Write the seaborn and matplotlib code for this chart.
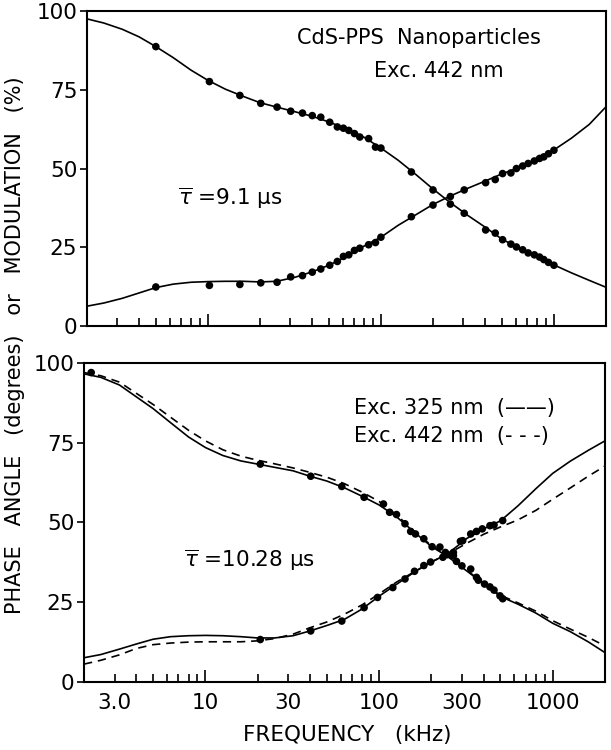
import numpy as np
import pandas as pd
import seaborn as sns
import matplotlib.pyplot as plt
from matplotlib.ticker import NullFormatter

# --- data (frequency in kHz) ---
# top panel: CdS-PPS, Exc. 442 nm, measured points
top_freq = [5.0, 10.2, 15.3, 20.2, 25.1, 30.1, 35.2, 40.1, 44.9, 50.6, 56.0, 60.7,
            65.2, 70.3, 75.5, 84.9, 93, 100, 150, 200, 252, 303, 403, 458, 505,
            564, 607, 660, 710, 771, 826, 874, 930, 1000]
top_mod = [88.7, 77.6, 73.2, 70.7, 69.5, 68.2, 67.6, 66.8, 66.3, 64.7, 63.2, 62.8,
           62.1, 61.1, 60.0, 59.5, 56.8, 56.5, 48.9, 43.2, 38.7, 35.8, 30.5, 29.5,
           27.4, 26.0, 25.1, 24.2, 23.2, 22.6, 21.9, 21.1, 20.2, 19.3]
top_phase = [12.4, 12.9, 13.2, 13.7, 13.9, 15.6, 16.0, 17.1, 18.1, 19.3, 20.5, 22.1,
             22.6, 24.0, 24.7, 25.8, 26.5, 28.2, 34.7, 38.4, 41.1, 43.2, 45.5, 46.5,
             48.4, 48.6, 50.0, 50.8, 51.6, 52.4, 53.2, 53.7, 54.7, 55.8]

# fitted curves
curve_freq = [2.0, 2.5, 3.2, 4.0, 5.0, 6.3, 8.0, 10, 12.6, 16, 20, 25, 32, 40, 50,
              63, 80, 100, 126, 160, 200, 250, 320, 400, 500, 630, 800, 1000,
              1260, 1600, 2000]
top_mod_fit = [97.5, 96.2, 94.2, 91.8, 88.7, 85.2, 81.2, 78.0, 75.2, 72.9, 70.9,
               69.5, 68.0, 66.6, 64.8, 62.6, 59.9, 56.5, 52.6, 48.0, 43.5, 39.3,
               35.0, 31.4, 27.6, 24.7, 22.0, 19.4, 16.9, 14.5, 12.3]
top_phase_fit = [6.3, 7.3, 8.8, 10.5, 12.2, 13.3, 13.9, 14.1, 14.2, 14.2, 14.0,
                 14.2, 15.5, 17.2, 19.3, 22.0, 25.4, 28.2, 32.0, 35.4, 38.6, 41.2,
                 43.8, 46.0, 48.3, 50.3, 53.0, 55.9, 59.6, 64.0, 69.6]

# bottom panel: points (Exc. 325 nm)
bot_mod_freq = [2.2, 20.7, 40.4, 61, 82, 106, 115, 126, 141, 152, 162, 181, 202,
                224, 241, 268, 279, 300, 337, 364, 373, 405, 435, 459, 497, 515]
bot_mod = [97.0, 68.3, 64.5, 61.3, 57.9, 55.8, 53.2, 52.5, 49.6, 47.2, 46.4, 44.9,
           42.4, 42.3, 40.6, 39.6, 37.8, 36.4, 35.4, 32.8, 31.9, 30.7, 29.8, 28.8,
           27.0, 26.1]
bot_phase_freq = [20.7, 40.4, 61, 82, 98, 120, 141, 160, 181, 198, 233, 246, 268,
                  294, 303, 337, 364, 393, 435, 459, 515]
bot_phase = [13.3, 16.0, 19.1, 23.3, 26.5, 29.6, 32.3, 34.7, 36.5, 37.6, 39.1, 39.9,
             40.6, 44.1, 44.3, 46.4, 47.2, 48.0, 49.0, 49.2, 50.6]

bot_mod_325 = [96.6, 95.5, 93.1, 89.4, 85.7, 81.3, 76.8, 73.5, 71.0, 69.3, 68.3,
               67.3, 66.2, 64.5, 63.0, 60.9, 58.2, 55.5, 51.8, 46.9, 42.5, 39.2,
               34.8, 30.8, 26.8, 24.4, 21.6, 18.4, 15.8, 12.6, 9.2]
bot_mod_442 = [97.0, 96.0, 94.0, 90.5, 87.0, 83.0, 78.9, 75.6, 72.8, 70.8, 69.5,
               68.4, 67.1, 65.7, 64.2, 62.2, 59.5, 56.6, 52.4, 47.2, 42.8, 39.4,
               35.0, 31.0, 27.2, 24.8, 22.2, 19.2, 16.6, 14.0, 11.3]
bot_phase_325 = [7.6, 8.6, 10.3, 11.9, 13.4, 14.2, 14.5, 14.6, 14.5, 14.2, 13.8,
                 13.8, 14.5, 16.0, 17.7, 19.6, 22.9, 26.9, 30.6, 34.5, 37.6, 40.3,
                 45.0, 48.0, 50.5, 55.2, 60.6, 65.4, 69.2, 72.6, 75.6]
bot_phase_442 = [5.6, 6.8, 8.5, 10.5, 11.7, 12.2, 12.5, 12.6, 12.6, 12.6, 12.9,
                 13.6, 15.0, 17.0, 18.8, 21.2, 24.2, 27.6, 31.3, 34.6, 37.6, 40.2,
                 43.5, 46.3, 48.6, 50.8, 53.8, 57.3, 60.8, 64.5, 67.7]

yticks = [0, 25, 50, 75, 100]
major_x = [10, 100, 1000]
minor_x = [2, 3, 4, 5, 6, 7, 8, 9, 20, 30, 40, 50, 60, 70, 80, 90,
           200, 300, 400, 500, 600, 700, 800, 900]
minor_lbl = {3: '3.0', 30: '30', 300: '300'}

sns.set_style('ticks', {'axes.edgecolor': 'black', 'xtick.color': 'black',
                        'ytick.color': 'black', 'text.color': 'black',
                        'axes.labelcolor': 'black'})
plt.rcParams['font.family'] = ['DejaVu Sans']
plt.rcParams['mathtext.fontset'] = 'dejavusans'

fig = plt.figure(figsize=(6.11, 7.5), dpi=100)
ax1 = fig.add_axes([0.1424, 0.5653, 0.8494, 0.42])
ax2 = fig.add_axes([0.1375, 0.0907, 0.8527, 0.4253])

# top panel
for vals in (top_mod_fit, top_phase_fit):
    d = pd.DataFrame({'f': curve_freq, 'v': vals})
    sns.lineplot(data=d, x='f', y='v', ax=ax1, color='black', lw=1.2, sort=False)
top_pts = pd.DataFrame({'f': top_freq + top_freq, 'v': top_mod + top_phase})
sns.scatterplot(data=top_pts, x='f', y='v', ax=ax1, color='black', s=30,
                edgecolor='none', zorder=3)

# bottom panel
for vals, ls in [(bot_mod_325, '-'), (bot_phase_325, '-'),
                 (bot_mod_442, '--'), (bot_phase_442, '--')]:
    d = pd.DataFrame({'f': curve_freq, 'v': vals})
    sns.lineplot(data=d, x='f', y='v', ax=ax2, color='black', lw=1.2, sort=False,
                 linestyle=ls)
for ln in ax2.lines:
    if ln.get_linestyle() == '--':
        ln.set_dashes((5, 3.5))
bot_pts = pd.DataFrame({'f': bot_mod_freq + bot_phase_freq, 'v': bot_mod + bot_phase})
sns.scatterplot(data=bot_pts, x='f', y='v', ax=ax2, color='black', s=30,
                edgecolor='none', zorder=3)

for ax in (ax1, ax2):
    ax.set_xscale('log')
    ax.set_xlim(2, 2000)
    ax.set_ylim(0, 100)
    ax.set_xlabel('')
    ax.set_ylabel('')
    for s in ax.spines.values():
        s.set_linewidth(1.5)
    ax.set_yticks(yticks)
    ax.set_yticklabels([str(t) for t in yticks], fontsize=15.5)
    ax.tick_params(axis='y', direction='out', length=5, width=1.2, pad=2)
    ax.set_xticks(major_x)
    ax.set_xticks(minor_x, minor=True)
    ax.tick_params(axis='x', which='major', direction='in', length=9, width=1.2, pad=8)
    ax.tick_params(axis='x', which='minor', direction='in', length=6, width=1.2, pad=8)

ax1.xaxis.set_major_formatter(NullFormatter())
ax1.xaxis.set_minor_formatter(NullFormatter())
ax2.set_xticklabels([str(t) for t in major_x], fontsize=15.5)
ax2.set_xticklabels([minor_lbl.get(t, '') for t in minor_x], minor=True, fontsize=15.5)

# annotations
ax1.text(0.64, 0.914, 'CdS-PPS  Nanoparticles', transform=ax1.transAxes,
         ha='center', va='center', fontsize=15)
ax1.text(0.678, 0.81, 'Exc. 442 nm', transform=ax1.transAxes,
         ha='center', va='center', fontsize=15)
ax1.text(0.175, 0.406, r'$\overline{\tau}$ =9.1 μs', transform=ax1.transAxes,
         ha='left', va='center', fontsize=15.5)
ax2.text(0.518, 0.858, 'Exc. 325 nm  (——)', transform=ax2.transAxes,
         ha='left', va='center', fontsize=15)
ax2.text(0.518, 0.771, 'Exc. 442 nm  (- - -)', transform=ax2.transAxes,
         ha='left', va='center', fontsize=15)
ax2.text(0.192, 0.38, r'$\overline{\tau}$ =10.28 μs', transform=ax2.transAxes,
         ha='left', va='center', fontsize=15.5)

fig.text(0.025, 1 - 345 / 750, 'PHASE   ANGLE   (degrees)   or   MODULATION   (%)',
         rotation=90, ha='center', va='center', fontsize=15)
fig.text(0.568, 0.02, 'FREQUENCY   (kHz)', ha='center', va='center', fontsize=15.5)

fig.savefig('out.png', dpi=100)
